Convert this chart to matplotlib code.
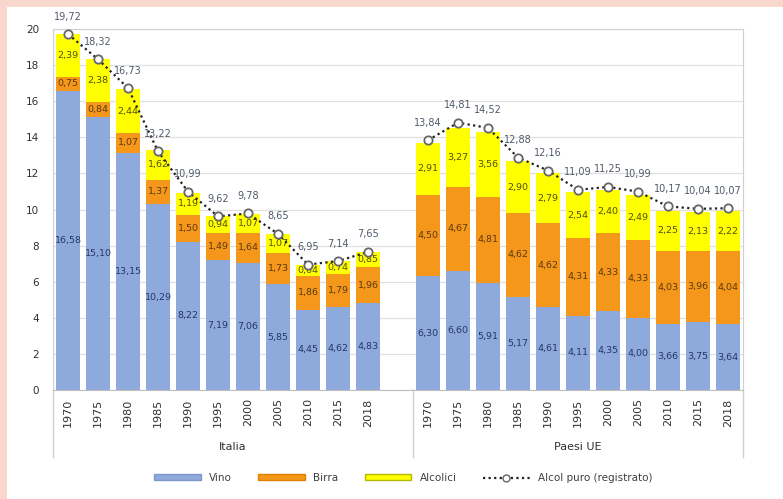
import numpy as np
import matplotlib
matplotlib.use("Agg")
import matplotlib.pyplot as plt
from matplotlib.patches import Rectangle, Patch
from matplotlib.lines import Line2D

years = ["1970", "1975", "1980", "1985", "1990", "1995", "2000", "2005", "2010", "2015", "2018"]
groups = ["Italia", "Paesi UE"]

ita_vino = [16.58, 15.10, 13.15, 10.29, 8.22, 7.19, 7.06, 5.85, 4.45, 4.62, 4.83]
ita_birra = [0.75, 0.84, 1.07, 1.37, 1.50, 1.49, 1.64, 1.73, 1.86, 1.79, 1.96]
ita_alcolici = [2.39, 2.38, 2.44, 1.62, 1.19, 0.94, 1.07, 1.07, 0.64, 0.74, 0.85]
ita_totale = [19.72, 18.32, 16.73, 13.22, 10.99, 9.62, 9.78, 8.65, 6.95, 7.14, 7.65]

ue_vino = [6.30, 6.60, 5.91, 5.17, 4.61, 4.11, 4.35, 4.00, 3.66, 3.75, 3.64]
ue_birra = [4.50, 4.67, 4.81, 4.62, 4.62, 4.31, 4.33, 4.33, 4.03, 3.96, 4.04]
ue_alcolici = [2.91, 3.27, 3.56, 2.90, 2.79, 2.54, 2.40, 2.49, 2.25, 2.13, 2.22]
ue_totale = [13.84, 14.81, 14.52, 12.88, 12.16, 11.09, 11.25, 10.99, 10.17, 10.04, 10.07]

C_VINO = "#8EA9DB"
C_BIRRA = "#F5971A"
C_ALC = "#FFFF00"

def fmt(v):
    return f"{v:.2f}".replace(".", ",")

fig = plt.figure(figsize=(7.83, 4.99), dpi=100)
fig.patch.set_facecolor("#F8D8CD")
fig.add_artist(Rectangle((7 / 783, 0), 1, 1 - 7 / 499, transform=fig.transFigure,
                         facecolor="white", edgecolor="none", zorder=0))

ax = fig.add_axes([53 / 783, 1 - 390 / 499, 690 / 783, 361 / 499])
ax.set_facecolor("white")
ax.set_xlim(-0.5, 22.5)
ax.set_ylim(0, 20)

bw = 0.77
for pos0, vino, birra, alc, tot in [(0, ita_vino, ita_birra, ita_alcolici, ita_totale),
                                    (12, ue_vino, ue_birra, ue_alcolici, ue_totale)]:
    x = np.arange(len(years)) + pos0
    vino = np.array(vino); birra = np.array(birra); alc = np.array(alc)
    ax.bar(x, vino, bw, color=C_VINO, zorder=2)
    ax.bar(x, birra, bw, bottom=vino, color=C_BIRRA, zorder=2)
    ax.bar(x, alc, bw, bottom=vino + birra, color=C_ALC, zorder=2)
    for xi, v, b, a in zip(x, vino, birra, alc):
        ax.text(xi, v / 2, fmt(v), ha="center", va="center", fontsize=6.8, color="#25366A", zorder=4)
        ax.text(xi, v + b / 2, fmt(b), ha="center", va="center", fontsize=6.8, color="#5A3A10", zorder=4)
        ax.text(xi, v + b + a / 2, fmt(a), ha="center", va="center", fontsize=6.8, color="#505010", zorder=4)
    ax.plot(x, tot, linestyle=(0, (1, 1.5)), color="#222222", lw=1.6,
            marker="o", markersize=6, markerfacecolor="white", markeredgecolor="#666666",
            markeredgewidth=1.3, zorder=5)
    for xi, t in zip(x, tot):
        ax.annotate(fmt(t), (xi, t), xytext=(0, 9), textcoords="offset points",
                    ha="center", va="bottom", fontsize=7, color="#505A6A", zorder=6)

ax.set_yticks(np.arange(0, 21, 2))
ax.set_yticklabels([str(v) for v in range(0, 21, 2)], fontsize=7.5, color="#303030")
ax.tick_params(axis="y", length=0, pad=10)
ax.grid(axis="y", color="#E0E0E0", lw=0.9, zorder=0)
ax.set_axisbelow(True)

xt = list(range(0, 11)) + list(range(12, 23))
ax.set_xticks(xt)
ax.set_xticklabels(years + years, rotation=90, fontsize=8, color="#303030")
ax.tick_params(axis="x", length=0, pad=6)

for s in ["top", "right", "left"]:
    ax.spines[s].set_color("#D0D0D0")
ax.spines["bottom"].set_color("#BFBFBF")
ext = -0.185
for xx in [-0.5, 22.5, 11.5]:
    ax.plot([xx, xx], [ext, 0], transform=ax.get_xaxis_transform(),
            color="#D0D0D0", lw=1, clip_on=False)
ax.text(5.5, -0.157, groups[0], transform=ax.get_xaxis_transform(), ha="center", va="center",
        fontsize=8, color="#303030")
ax.text(17, -0.157, groups[1], transform=ax.get_xaxis_transform(), ha="center", va="center",
        fontsize=8, color="#303030")

handles = [Patch(facecolor=C_VINO, edgecolor="#7F99CC"),
           Patch(facecolor=C_BIRRA, edgecolor="#E08000"),
           Patch(facecolor=C_ALC, edgecolor="#B8B800"),
           Line2D([0], [0], linestyle=(0, (1, 1.5)), color="#222222", lw=1.6, marker="o",
                  markersize=5, markerfacecolor="white", markeredgecolor="#666666")]
fig.legend(handles, ["Vino", "Birra", "Alcolici", "Alcol puro (registrato)"],
           loc="center", bbox_to_anchor=(0.515, 1 - 478 / 499), ncol=4, frameon=False,
           fontsize=7.5, handlelength=4.5, handleheight=0.5, columnspacing=2.5,
           labelcolor="#404040")

fig.savefig("out.png", dpi=100, facecolor=fig.get_facecolor())
